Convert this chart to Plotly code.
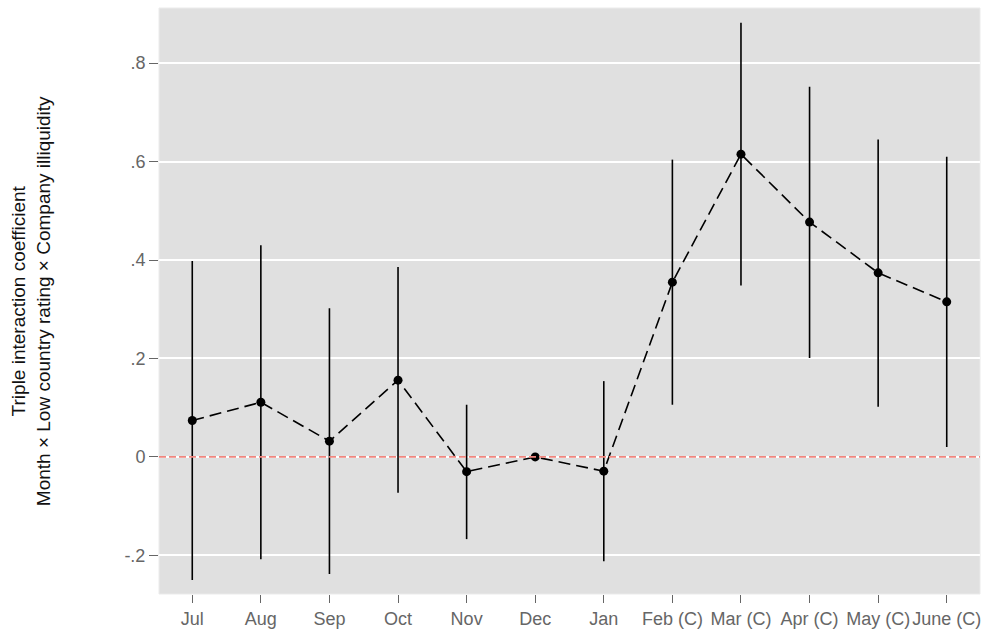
import plotly.graph_objects as go

# Event-time coefficients with 95% confidence bounds (Dec is the omitted base month)
months = ["Jul", "Aug", "Sep", "Oct", "Nov", "Dec", "Jan",
          "Feb (C)", "Mar (C)", "Apr (C)", "May (C)", "June (C)"]
coef = [0.074, 0.111, 0.032, 0.156, -0.030, 0.0, -0.029,
        0.355, 0.615, 0.477, 0.374, 0.315]
ci_high = [0.398, 0.430, 0.302, 0.386, 0.106, None, 0.154,
           0.604, 0.882, 0.752, 0.645, 0.610]
ci_low = [-0.250, -0.208, -0.238, -0.073, -0.167, None, -0.212,
          0.106, 0.348, 0.201, 0.102, 0.020]

y_tickvals = [-0.2, 0, 0.2, 0.4, 0.6, 0.8]
y_ticktext = ["-.2", "0", ".2", ".4", ".6", ".8"]

FONT = "Liberation Sans, Arial, sans-serif"
TICK_GREY = "#666666"

err_plus = [0 if h is None else h - c for h, c in zip(ci_high, coef)]
err_minus = [0 if l is None else c - l for l, c in zip(ci_low, coef)]

fig = go.Figure()

# dashed path through the point estimates, with CI whiskers
fig.add_trace(go.Scatter(
    x=list(range(len(months))),
    y=coef,
    mode="lines+markers",
    line=dict(color="black", width=1.6, dash="12px,6px"),
    marker=dict(color="black", size=9),
    error_y=dict(type="data", symmetric=False, array=err_plus,
                 arrayminus=err_minus, color="black", thickness=1.6, width=0),
    showlegend=False,
    hoverinfo="skip",
))

# reference line at zero
fig.add_shape(type="line", xref="paper", x0=0, x1=1, yref="y", y0=0, y1=0,
              line=dict(color="#F0867F", width=1.8, dash="7px,3px"),
              layer="above")

# faint frame around the panel
fig.add_shape(type="rect", xref="paper", yref="paper", x0=0, x1=1, y0=0, y1=1,
              line=dict(color="#EBEBEB", width=1), layer="below")

fig.add_annotation(
    text="Triple interaction coefficient<br>Month × Low country rating × Company illiquidity",
    xref="paper", yref="paper", x=(31 - 159) / 822, y=0.5,
    xanchor="center", yanchor="middle", textangle=-90, showarrow=False,
    font=dict(family=FONT, size=19, color="#111111"),
)

fig.update_layout(
    width=988, height=636,
    margin=dict(l=159, r=7, t=8, b=37),
    paper_bgcolor="white",
    plot_bgcolor="#E0E0E0",
    font=dict(family=FONT, size=18, color=TICK_GREY),
    xaxis=dict(
        range=[-0.485, 11.485],
        tickvals=list(range(len(months))), ticktext=months,
        tickangle=0,
        showgrid=False, zeroline=False, showline=False,
        ticks="outside", ticklen=8, tickwidth=1.2, tickcolor=TICK_GREY,
        tickfont=dict(family=FONT, size=18, color=TICK_GREY),
    ),
    yaxis=dict(
        range=[-0.2785, 0.912],
        tickvals=y_tickvals, ticktext=y_ticktext,
        showgrid=True, gridcolor="white", gridwidth=1.5,
        zeroline=False, showline=False,
        ticks="outside", ticklen=9, tickwidth=1.2, tickcolor=TICK_GREY,
        tickfont=dict(family=FONT, size=18, color=TICK_GREY),
    ),
)

fig.write_html("out.html")
